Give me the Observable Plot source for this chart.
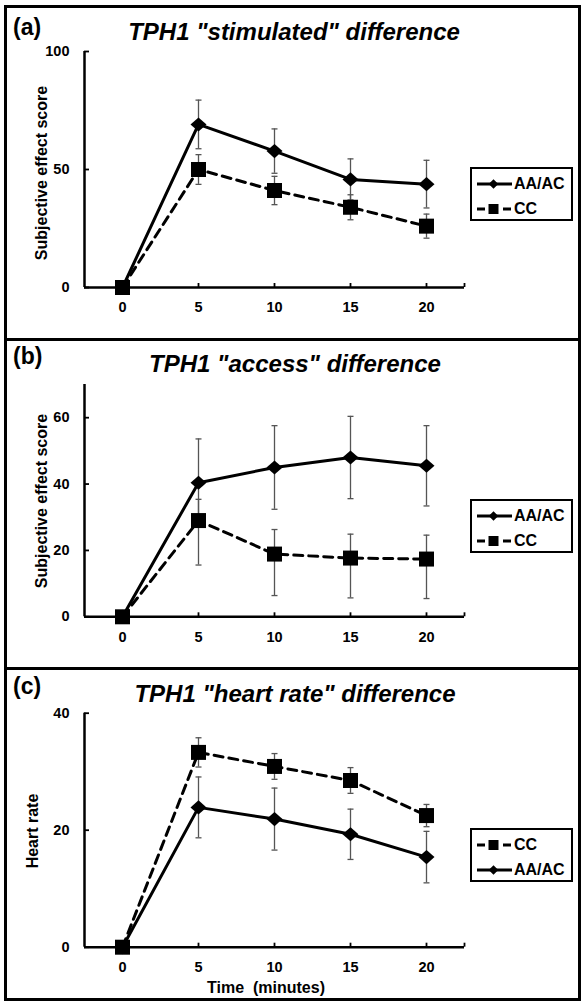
<!DOCTYPE html>
<html>
<head>
<meta charset="utf-8">
<script src="https://cdn.jsdelivr.net/npm/d3@7"></script>
<script src="https://cdn.jsdelivr.net/npm/@observablehq/plot@0.6"></script>
<style>
  html, body { margin: 0; padding: 0; background: #fff; }
  #wrap { position: relative; width: 586px; height: 1007px; overflow: hidden; font-family: "Liberation Sans", Arial, sans-serif; color: #000; }
  .line { position: absolute; background: #000; }
  .plot { position: absolute; left: 0; }
  .txt { position: absolute; white-space: pre; font-weight: bold; line-height: 1; }
  .title { font-size: 24px; font-style: italic; transform: translate(-50%, -50%); }
  .lab { font-size: 23px; transform: translate(0, -50%); }
  .ylab { font-size: 16px; transform: translate(-50%, -50%) rotate(-90deg); }
  .xlab { font-size: 16px; transform: translate(-50%, -50%); }
  .legend { position: absolute; border: 2.5px solid #000; box-sizing: border-box; background: #fff; }
  .legrow { position: absolute; left: 4px; height: 18px; display: flex; align-items: center; transform: translateY(-50%); }
  .legrow span { font-size: 16px; font-weight: bold; margin-left: 2px; }
</style>
</head>
<body>
<div id="wrap"></div>
<script>
// ---------- data ----------
const times = [0, 5, 10, 15, 20];
const xTickLabels = ["0", "5", "10", "15", "20"];

// (a) TPH1 "stimulated" difference
const aAA    = [0, 69.1, 57.8, 45.8, 43.8];
const aAAerr = [0, 10.3, 9.4, 8.7, 10.1];
const aCC    = [0, 50.0, 41.1, 34.0, 26.0];
const aCCerr = [0, 6.3, 6.0, 5.3, 5.1];
const aTicks = [0, 50, 100];

// (b) TPH1 "access" difference
const bAA    = [0, 40.4, 45.0, 48.0, 45.5];
const bAAerr = [0, 13.2, 12.6, 12.4, 12.1];
const bCC      = [0, 29.0, 18.9, 17.7, 17.4];
const bCCerrUp = [0, 6.4, 7.4, 7.2, 7.2];
const bCCerrDn = [0, 13.4, 12.5, 12.0, 11.9];
const bTicks = [0, 20, 40, 60];

// (c) TPH1 "heart rate" difference
const cCC    = [0, 33.3, 30.9, 28.5, 22.5];
const cCCerr = [0, 2.5, 2.2, 2.2, 1.9];
const cAA    = [0, 23.9, 21.9, 19.3, 15.4];
const cAAerr = [0, 5.2, 5.3, 4.3, 4.4];
const cTicks = [0, 20, 40];

const seriesNames = ["AA/AC", "CC"];

// ---------- helpers ----------
const wrap = document.getElementById("wrap");
function rows(vals, up, dn) {
  return times.map((t, i) => ({ t, v: vals[i], hi: vals[i] + up[i], lo: vals[i] - dn[i], e: up[i] + dn[i] }));
}
const diamondSym = { draw(ctx, size) { const r = Math.sqrt(size / Math.PI); ctx.moveTo(0, -r * 0.88); ctx.lineTo(r, 0); ctx.lineTo(0, r * 0.88); ctx.lineTo(-r, 0); ctx.closePath(); } };
const squareSym  = { draw(ctx, size) { const r = Math.sqrt(size / Math.PI); ctx.rect(-r, -r, 2 * r, 2 * r); } };
const capSym     = { draw(ctx, size) { const r = Math.sqrt(size / Math.PI); ctx.moveTo(-r, 0); ctx.lineTo(r, 0); } };

function errMarks(data) {
  const d = data.filter(r => r.e > 0);
  return [
    Plot.ruleX(d, { x: "t", y1: "lo", y2: "hi", stroke: "#555", strokeWidth: 1.3 }),
    Plot.dot(d, { x: "t", y: "hi", symbol: capSym, r: 3, fill: "none", stroke: "#555", strokeWidth: 1.3 }),
    Plot.dot(d, { x: "t", y: "lo", symbol: capSym, r: 3, fill: "none", stroke: "#555", strokeWidth: 1.3 })
  ];
}

function makePanel({ top, height, mTop, mBottom, yDomain, yTicks, aa, cc }) {
  const p = Plot.plot({
    width: 586, height,
    marginLeft: 84, marginRight: 122, marginTop: mTop, marginBottom: mBottom,
    x: { domain: [-2.5, 22.5] },
    y: { domain: yDomain },
    style: { fontFamily: "'Liberation Sans', Arial, sans-serif", background: "transparent", overflow: "visible", color: "#000" },
    marks: [
      Plot.axisY({ ticks: yTicks, tickSize: 5, dx: 5, tickPadding: 15, fontSize: 14.5, fontWeight: "bold", label: null, strokeWidth: 1.8 }),
      Plot.axisX({ ticks: [...times, 22.5], tickFormat: d => (d > 20 ? "" : xTickLabels[times.indexOf(d)]), tickSize: 4, dy: -4, tickPadding: 14.5, fontSize: 14.5, fontWeight: "bold", label: null, strokeWidth: 1.8 }),
      Plot.ruleY([yDomain[0]], { stroke: "#000", strokeWidth: 2.5 }),
      Plot.ruleX([-2.5], { y1: yDomain[0], y2: yDomain[1], stroke: "#000", strokeWidth: 2.5 }),
      ...errMarks(aa),
      ...errMarks(cc),
      Plot.line(aa, { x: "t", y: "v", stroke: "#000", strokeWidth: 3 }),
      Plot.line(cc, { x: "t", y: "v", stroke: "#000", strokeWidth: 3, strokeDasharray: "9,6" }),
      Plot.dot(aa, { x: "t", y: "v", symbol: diamondSym, r: 8, fill: "#000", stroke: "none" }),
      Plot.dot(cc, { x: "t", y: "v", symbol: squareSym, r: 7.5, fill: "#000", stroke: "none" })
    ]
  });
  p.classList.add("plot");
  p.style.top = top + "px";
  wrap.appendChild(p);
}

function addText(cls, text, x, y) {
  const d = document.createElement("div");
  d.className = "txt " + cls;
  d.textContent = text;
  d.style.left = x + "px";
  d.style.top = y + "px";
  wrap.appendChild(d);
}

function legendSample(kind) {
  const ns = "http://www.w3.org/2000/svg";
  const s = document.createElementNS(ns, "svg");
  s.setAttribute("width", 36); s.setAttribute("height", 14);
  const l = document.createElementNS(ns, "line");
  l.setAttribute("x1", 1); l.setAttribute("x2", 36); l.setAttribute("y1", 7); l.setAttribute("y2", 7);
  l.setAttribute("stroke", "#000"); l.setAttribute("stroke-width", 3);
  if (kind === "CC") l.setAttribute("stroke-dasharray", "8,5");
  s.appendChild(l);
  const m = document.createElementNS(ns, "path");
  m.setAttribute("d", kind === "CC" ? "M12.5,2h10v10h-10z" : "M17.5,2.3L22.3,7L17.5,11.7L12.7,7z");
  m.setAttribute("fill", "#000");
  s.appendChild(m);
  return s;
}

function addLegend(top, order) {
  const box = document.createElement("div");
  box.className = "legend";
  box.style.left = "470px"; box.style.top = top + "px";
  box.style.width = "103px"; box.style.height = "54px";
  order.forEach((name, i) => {
    const r = document.createElement("div");
    r.className = "legrow";
    r.style.top = (i === 0 ? 14.5 : 39.5) + "px";
    r.appendChild(legendSample(name));
    const sp = document.createElement("span");
    sp.textContent = name;
    r.appendChild(sp);
    box.appendChild(r);
  });
  wrap.appendChild(box);
}

// ---------- panels ----------
makePanel({ top: 0, height: 338, mTop: 51, mBottom: 51, yDomain: [0, 100], yTicks: aTicks,
  aa: rows(aAA, aAAerr, aAAerr), cc: rows(aCC, aCCerr, aCCerr) });
makePanel({ top: 339, height: 329, mTop: 45, mBottom: 51.7, yDomain: [0, 70], yTicks: bTicks,
  aa: rows(bAA, bAAerr, bAAerr), cc: rows(bCC, bCCerrUp, bCCerrDn) });
makePanel({ top: 668, height: 332, mTop: 44.7, mBottom: 53.3, yDomain: [0, 40], yTicks: cTicks,
  aa: rows(cAA, cAAerr, cAAerr), cc: rows(cCC, cCCerr, cCCerr) });

// frame lines
[[4, 4.5, 577, 3], [4, 337.5, 577, 3], [4, 667, 577, 3], [4, 998, 577, 3], [4, 4.5, 3, 996.5], [578, 4.5, 3, 996.5]].forEach(([x, y, w, h]) => {
  const d = document.createElement("div");
  d.className = "line";
  Object.assign(d.style, { left: x + "px", top: y + "px", width: w + "px", height: h + "px" });
  wrap.appendChild(d);
});

// titles and labels
addText("lab", "(a)", 13, 27);
addText("title", 'TPH1 "stimulated" difference', 294, 32);
addText("ylab", "Subjective effect score", 42, 173);
addLegend(167, seriesNames);

addText("lab", "(b)", 13, 356);
addText("title", 'TPH1 "access" difference', 295, 364);
addText("ylab", "Subjective effect score", 42, 501);
addLegend(499, seriesNames);

addText("lab", "(c)", 13, 686);
addText("title", 'TPH1 "heart rate" difference', 295, 694);
addText("ylab", "Heart rate", 33, 831);
addText("xlab", "Time  (minutes)", 266, 988);
addLegend(828, [seriesNames[1], seriesNames[0]]);
</script>
</body>
</html>
